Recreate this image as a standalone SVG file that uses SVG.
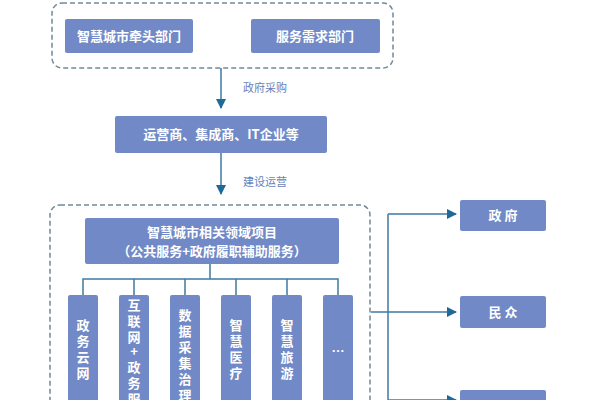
<svg xmlns="http://www.w3.org/2000/svg" width="600" height="400" viewBox="0 0 600 400">
<style>
.n{fill:#7189c6;}
.t{fill:#fff;font-family:"Noto Sans CJK SC",sans-serif;font-weight:bold;font-size:13px;text-anchor:middle;}
.l{fill:#6a7fb8;font-family:"Noto Sans CJK SC",sans-serif;font-size:11px;}
.d{fill:none;stroke:#6f8a9a;stroke-width:1.5;stroke-dasharray:5 3;}
.c{fill:none;stroke:#3f7aa3;stroke-width:1.5;}
</style>
<defs><marker id="a" viewBox="0 0 10 10" refX="9" refY="5" markerWidth="7" markerHeight="7" orient="auto"><path d="M0,0L10,5L0,10z" fill="#1f6a99"/></marker></defs>
<rect width="600" height="400" fill="#fff"/>
<rect class="d" x="52" y="3" width="341" height="65" rx="10"/>
<rect class="d" x="50" y="205" width="320" height="210" rx="10"/>
<g id="connectors">
<path class="c" d="M221,68V108" marker-end="url(#a)"/>
<path class="c" d="M221,153V194" marker-end="url(#a)"/>
<path class="c" d="M210,264V279M83,295V279H338V295M134,279V295M185,279V295M236,279V295M287,279V295"/>
<path class="c" d="M371,312H388"/>
<path class="c" d="M388,214V400"/>
<path class="c" d="M388,214H456" marker-end="url(#a)"/>
<path class="c" d="M388,312H456" marker-end="url(#a)"/>
<path class="c" d="M388,400H456" marker-end="url(#a)"/>
</g>
<text class="l" x="243" y="92">政府采购</text>
<text class="l" x="243" y="186">建设运营</text>
<g id="n1"><rect class="n" x="65" y="19" width="128" height="34" rx="2"/><text class="t" x="129" y="41">智慧城市牵头部门</text></g>
<g id="n2"><rect class="n" x="251" y="19" width="129" height="34" rx="2"/><text class="t" x="315" y="41">服务需求部门</text></g>
<g id="n3"><rect class="n" x="115" y="116" width="212" height="37" rx="2"/><text class="t" x="221" y="139">运营商、集成商、IT企业等</text></g>
<g id="n4"><rect class="n" x="85" y="218" width="254" height="46" rx="2"/><text class="t" x="212" y="237">智慧城市相关领域项目</text><text class="t" x="212" y="256">（公共服务+政府履职辅助服务）</text></g>
<g id="c1"><rect class="n" x="68" y="295" width="30" height="120" rx="2"/><text class="t"><tspan x="83" y="330">政</tspan><tspan x="83" y="346">务</tspan><tspan x="83" y="362">云</tspan><tspan x="83" y="378">网</tspan></text></g>
<g id="c2"><rect class="n" x="119" y="295" width="30" height="120" rx="2"/><text class="t"><tspan x="134" y="310">互</tspan><tspan x="134" y="326">联</tspan><tspan x="134" y="342">网</tspan><tspan x="134" y="356">+</tspan><tspan x="134" y="372">政</tspan><tspan x="134" y="388">务</tspan><tspan x="134" y="404">服</tspan></text></g>
<g id="c3"><rect class="n" x="170" y="295" width="30" height="120" rx="2"/><text class="t"><tspan x="185" y="320">数</tspan><tspan x="185" y="336">据</tspan><tspan x="185" y="352">采</tspan><tspan x="185" y="368">集</tspan><tspan x="185" y="384">治</tspan><tspan x="185" y="400">理</tspan></text></g>
<g id="c4"><rect class="n" x="221" y="295" width="30" height="120" rx="2"/><text class="t"><tspan x="236" y="330">智</tspan><tspan x="236" y="346">慧</tspan><tspan x="236" y="362">医</tspan><tspan x="236" y="378">疗</tspan></text></g>
<g id="c5"><rect class="n" x="272" y="295" width="30" height="120" rx="2"/><text class="t"><tspan x="287" y="330">智</tspan><tspan x="287" y="346">慧</tspan><tspan x="287" y="362">旅</tspan><tspan x="287" y="378">游</tspan></text></g>
<g id="c6"><rect class="n" x="323" y="295" width="30" height="120" rx="2"/><text class="t" x="338" y="356">…</text></g>
<g id="r1"><rect class="n" x="460" y="200" width="86" height="31" rx="2"/><text class="t" x="503" y="220">政 府</text></g>
<g id="r2"><rect class="n" x="460" y="296" width="86" height="32" rx="2"/><text class="t" x="503" y="317">民 众</text></g>
<g id="r3"><rect class="n" x="460" y="390" width="86" height="32" rx="2"/></g>
</svg>
